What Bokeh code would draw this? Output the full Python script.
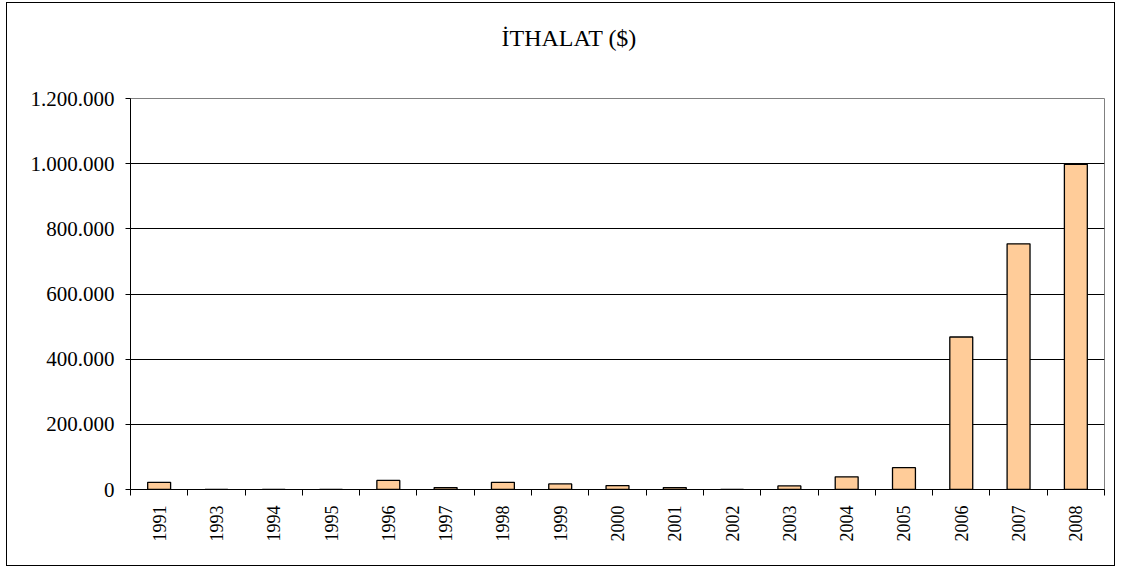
import math
from bokeh.plotting import figure
from bokeh.models import FixedTicker, Range1d, ColumnDataSource
from bokeh.embed import file_html
from bokeh.resources import INLINE

years = ["1991", "1993", "1994", "1995", "1996", "1997", "1998", "1999", "2000",
         "2001", "2002", "2003", "2004", "2005", "2006", "2007", "2008"]
imports_usd = [22000, 0, 0, 0, 28000, 6000, 22000, 17000, 12000,
               6000, 0, 11000, 39000, 67000, 468000, 754000, 998000]
y_ticks = [0, 200000, 400000, 600000, 800000, 1000000, 1200000]
y_tick_labels = ["0", "200.000", "400.000", "600.000", "800.000", "1.000.000", "1.200.000"]
title_text = "İTHALAT ($)"

FONT = "'Liberation Serif', 'Times New Roman', serif"

n = len(years)
centers = [i + 0.5 for i in range(n)]
bounds = [float(i) for i in range(n + 1)]

src = ColumnDataSource(dict(x=centers, top=imports_usd, year=years))

p = figure(width=1109, height=564, output_backend="svg", toolbar_location=None,
           x_range=Range1d(0, n), y_range=Range1d(0, 1200000),
           min_border_left=123, min_border_right=12, min_border_top=95, min_border_bottom=78)
p.styles = {"border": "1px solid black", "margin-left": "6px", "margin-top": "2px"}

p.title.text = title_text
p.title.align = "left"
p.title.text_font = FONT
p.title.text_font_style = "normal"
p.title.text_font_size = "24px"
p.title.text_color = "black"
p.title.offset = 371
try:
    p.title.padding = dict(left=0, right=0, top=0, bottom=48)
    p.title.standoff = 0
except Exception:
    p.title.standoff = 66

p.vbar(x="x", top="top", width=0.4, source=src, fill_color="#FFCC99",
       line_color="black", line_width=1.3)

p.outline_line_color = "#808080"
p.outline_line_width = 1

# y axis
p.yaxis.ticker = FixedTicker(ticks=y_ticks)
p.yaxis.major_label_overrides = {t: l for t, l in zip(y_ticks, y_tick_labels)}
p.yaxis.major_label_text_font = FONT
p.yaxis.major_label_text_font_size = "21px"
p.yaxis.major_label_text_color = "black"
p.yaxis.major_tick_out = 5
p.yaxis.major_tick_in = 0
p.yaxis.minor_tick_out = 0
p.yaxis.minor_tick_in = 0
p.yaxis.major_label_standoff = 11
p.yaxis.axis_line_color = "black"
p.yaxis.major_tick_line_color = "black"

# x axis
p.xaxis.ticker = FixedTicker(ticks=centers, minor_ticks=bounds)
p.xaxis.major_label_overrides = {c: y for c, y in zip(centers, years)}
p.xaxis.major_label_orientation = math.pi / 2
p.xaxis.major_label_text_font = FONT
p.xaxis.major_label_text_font_size = "18px"
p.xaxis.major_label_text_color = "black"
p.xaxis.major_tick_out = 0
p.xaxis.major_tick_in = 0
p.xaxis.minor_tick_out = 6
p.xaxis.minor_tick_in = 0
p.xaxis.minor_tick_line_color = "black"
p.xaxis.major_label_standoff = 10
p.xaxis.axis_line_color = "black"

p.xgrid.visible = False
p.ygrid.ticker = FixedTicker(ticks=y_ticks[1:-1])
p.ygrid.grid_line_color = "black"
p.ygrid.grid_line_width = 1

p.background_fill_color = "white"
p.border_fill_color = "white"

open("out.html", "w").write(file_html(p, INLINE))
